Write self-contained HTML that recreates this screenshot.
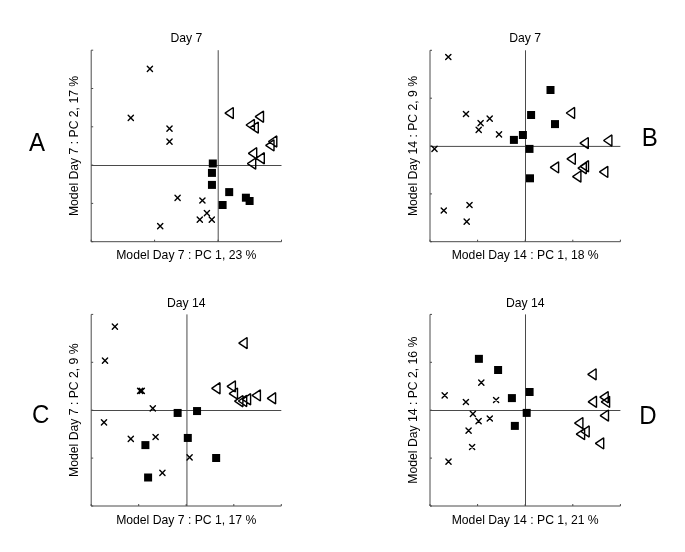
<!DOCTYPE html>
<html><head><meta charset="utf-8"><style>
html,body{margin:0;padding:0;background:#fff;}
svg{display:block;will-change:transform;}
text{font-family:"Liberation Sans",sans-serif;fill:#000;}
.t12{font-size:12.2px;}
.t24{font-size:25.6px;}
.ax{fill:none;stroke:#4a4a4a;stroke-width:1.0;}
.tk{fill:none;stroke:#4a4a4a;stroke-width:1.0;}
.ch{fill:none;stroke:#4a4a4a;stroke-width:1.0;}
.mx{fill:none;stroke:#000;stroke-width:1.4;stroke-linecap:round;}
.ms rect{fill:#000;}
.mt{fill:none;stroke:#000;stroke-width:1.4;stroke-linejoin:bevel;}
</style></head><body>
<svg width="685" height="552" viewBox="0 0 685 552">
<rect width="685" height="552" fill="#fff"/>
<path d="M91.2 50.2V241.7H281.5" class="ax"/>
<path d="M91.2 241.7v-2.0M154.6 241.7v-2.0M218.1 241.7v-2.0M281.5 241.7v-2.0M91.2 50.2h2.0M91.2 88.5h2.0M91.2 126.8h2.0M91.2 165.1h2.0M91.2 203.4h2.0M91.2 241.7h2.0" class="tk"/>
<path d="M218.2 50.2V241.7M91.2 165.5H281.5" class="ch"/>
<path d="M147.3 66.2l5.2 5.2m0 -5.2l-5.2 5.2M128.2 115.2l5.2 5.2m0 -5.2l-5.2 5.2M166.9 126.1l5.2 5.2m0 -5.2l-5.2 5.2M166.9 139.1l5.2 5.2m0 -5.2l-5.2 5.2M175 195.2l5.2 5.2m0 -5.2l-5.2 5.2M199.8 197.9l5.2 5.2m0 -5.2l-5.2 5.2M204.3 210.5l5.2 5.2m0 -5.2l-5.2 5.2M197.2 217.1l5.2 5.2m0 -5.2l-5.2 5.2M209.2 217.1l5.2 5.2m0 -5.2l-5.2 5.2M157.6 223.5l5.2 5.2m0 -5.2l-5.2 5.2" class="mx"/>
<g class="ms"><rect x="208.8" y="159.5" width="8.0" height="8.0"/><rect x="207.95" y="168.9" width="8.0" height="8.0"/><rect x="207.95" y="180.9" width="8.0" height="8.0"/><rect x="225.2" y="188.1" width="8.0" height="8.0"/><rect x="218.6" y="201" width="8.0" height="8.0"/><rect x="241.9" y="193.7" width="8.0" height="8.0"/><rect x="245.6" y="197" width="8.0" height="8.0"/></g>
<path d="M225 113.1L233.3 107.5V118.7ZM255.2 116.7L263.5 111.1V122.3ZM246.1 125L254.4 119.4V130.6ZM250 127.6L258.3 122V133.2ZM268.5 141.5L276.8 135.9V147.1ZM265.7 145.4L274 139.8V151ZM248.4 153.3L256.7 147.7V158.9ZM256 158.3L264.3 152.7V163.9ZM247.4 163.6L255.7 158V169.2Z" class="mt"/>
<text x="186.35" y="41.9" class="t12" text-anchor="middle">Day 7</text>
<text x="186.35" y="259.3" class="t12" text-anchor="middle">Model Day 7 : PC 1, 23 %</text>
<text transform="translate(78 145.95) rotate(-90)" class="t12" text-anchor="middle">Model Day 7 : PC 2, 17 %</text>
<text transform="translate(28.9 150.7) scale(0.94 1)" class="t24">A</text>
<path d="M430 50.3V241.7H620.4" class="ax"/>
<path d="M430 241.7v-2.0M477.6 241.7v-2.0M525.2 241.7v-2.0M572.8 241.7v-2.0M620.4 241.7v-2.0M430 50.3h2.0M430 98.2h2.0M430 146h2.0M430 193.9h2.0M430 241.7h2.0" class="tk"/>
<path d="M525.5 50.3V241.7M430 146.4H620.4" class="ch"/>
<path d="M445.7 54.4l5.2 5.2m0 -5.2l-5.2 5.2M463.4 111.4l5.2 5.2m0 -5.2l-5.2 5.2M487.1 116l5.2 5.2m0 -5.2l-5.2 5.2M478 120.6l5.2 5.2m0 -5.2l-5.2 5.2M476.1 127.2l5.2 5.2m0 -5.2l-5.2 5.2M496.4 131.7l5.2 5.2m0 -5.2l-5.2 5.2M431.9 146.3l5.2 5.2m0 -5.2l-5.2 5.2M441.2 207.9l5.2 5.2m0 -5.2l-5.2 5.2M466.9 202.4l5.2 5.2m0 -5.2l-5.2 5.2M464.1 219l5.2 5.2m0 -5.2l-5.2 5.2" class="mx"/>
<g class="ms"><rect x="546.5" y="86" width="8.0" height="8.0"/><rect x="527.1" y="111" width="8.0" height="8.0"/><rect x="551" y="120.1" width="8.0" height="8.0"/><rect x="509.9" y="135.9" width="8.0" height="8.0"/><rect x="518.9" y="131" width="8.0" height="8.0"/><rect x="525.5" y="144.9" width="8.0" height="8.0"/><rect x="526" y="174.3" width="8.0" height="8.0"/></g>
<path d="M566.3 113L574.6 107.4V118.6ZM580 143.1L588.3 137.5V148.7ZM603.6 140.5L611.9 134.9V146.1ZM567 158.9L575.3 153.3V164.5ZM550.3 167.4L558.6 161.8V173ZM578 168.2L586.3 162.6V173.8ZM580.2 166.3L588.5 160.7V171.9ZM572.6 176.6L580.9 171V182.2ZM599.5 171.9L607.8 166.3V177.5Z" class="mt"/>
<text x="525.2" y="42.3" class="t12" text-anchor="middle">Day 7</text>
<text x="525.2" y="259.3" class="t12" text-anchor="middle">Model Day 14 : PC 1, 18 %</text>
<text transform="translate(416.8 146) rotate(-90)" class="t12" text-anchor="middle">Model Day 14 : PC 2, 9 %</text>
<text transform="translate(641.8 145.9) scale(0.94 1)" class="t24">B</text>
<path d="M91.2 314.4V506H281.3" class="ax"/>
<path d="M91.2 506v-2.0M138.7 506v-2.0M186.2 506v-2.0M233.8 506v-2.0M281.3 506v-2.0M91.2 314.4h2.0M91.2 362.3h2.0M91.2 410.2h2.0M91.2 458.1h2.0M91.2 506h2.0" class="tk"/>
<path d="M186.95 314.4V506M91.2 410.5H281.3" class="ch"/>
<path d="M112.3 324l5.2 5.2m0 -5.2l-5.2 5.2M102.4 358.1l5.2 5.2m0 -5.2l-5.2 5.2M137.5 388.3l5.2 5.2m0 -5.2l-5.2 5.2M139.2 388.3l5.2 5.2m0 -5.2l-5.2 5.2M150.2 405.7l5.2 5.2m0 -5.2l-5.2 5.2M101.4 419.7l5.2 5.2m0 -5.2l-5.2 5.2M128.2 436.2l5.2 5.2m0 -5.2l-5.2 5.2M153 434.4l5.2 5.2m0 -5.2l-5.2 5.2M187 454.7l5.2 5.2m0 -5.2l-5.2 5.2M159.8 470.3l5.2 5.2m0 -5.2l-5.2 5.2" class="mx"/>
<g class="ms"><rect x="173.65" y="408.95" width="8.0" height="8.0"/><rect x="193.05" y="407.05" width="8.0" height="8.0"/><rect x="183.8" y="433.95" width="8.0" height="8.0"/><rect x="141.4" y="441.1" width="8.0" height="8.0"/><rect x="144.1" y="473.5" width="8.0" height="8.0"/><rect x="212.15" y="454" width="8.0" height="8.0"/></g>
<path d="M238.8 343.1L247.1 337.5V348.7ZM211.7 388.3L220 382.7V393.9ZM227.1 386.4L235.4 380.8V392ZM229.2 393.6L237.5 388V399.2ZM252.1 395.4L260.4 389.8V401ZM267.3 398.3L275.6 392.7V403.9ZM234.6 401.2L242.9 395.6V406.8ZM238.4 401L246.7 395.4V406.6ZM242.3 399.3L250.6 393.7V404.9Z" class="mt"/>
<text x="186.25" y="307.1" class="t12" text-anchor="middle">Day 14</text>
<text x="186.25" y="523.6" class="t12" text-anchor="middle">Model Day 7 : PC 1, 17 %</text>
<text transform="translate(78 410.2) rotate(-90)" class="t12" text-anchor="middle">Model Day 7 : PC 2, 9 %</text>
<text transform="translate(32 422.6) scale(0.94 1)" class="t24">C</text>
<path d="M430 314.4V506H620.4" class="ax"/>
<path d="M430 506v-2.0M477.6 506v-2.0M525.2 506v-2.0M572.8 506v-2.0M620.4 506v-2.0M430 314.4h2.0M430 362.3h2.0M430 410.2h2.0M430 458.1h2.0M430 506h2.0" class="tk"/>
<path d="M525.5 314.4V506M430 410.5H620.4" class="ch"/>
<path d="M478.7 380.1l5.2 5.2m0 -5.2l-5.2 5.2M442.1 392.8l5.2 5.2m0 -5.2l-5.2 5.2M463.3 399.4l5.2 5.2m0 -5.2l-5.2 5.2M493.5 397.4l5.2 5.2m0 -5.2l-5.2 5.2M470.3 411.2l5.2 5.2m0 -5.2l-5.2 5.2M476 418.6l5.2 5.2m0 -5.2l-5.2 5.2M487.2 415.9l5.2 5.2m0 -5.2l-5.2 5.2M466 428l5.2 5.2m0 -5.2l-5.2 5.2M469.5 444.4l5.2 5.2m0 -5.2l-5.2 5.2M445.9 459.1l5.2 5.2m0 -5.2l-5.2 5.2" class="mx"/>
<g class="ms"><rect x="474.9" y="354.85" width="8.0" height="8.0"/><rect x="494.1" y="366" width="8.0" height="8.0"/><rect x="507.9" y="394.1" width="8.0" height="8.0"/><rect x="525.6" y="388" width="8.0" height="8.0"/><rect x="522.7" y="408.9" width="8.0" height="8.0"/><rect x="510.85" y="421.9" width="8.0" height="8.0"/></g>
<path d="M587.8 374.35L596.1 368.75V379.95ZM588.2 401.8L596.5 396.2V407.4ZM599.9 397.2L608.2 391.6V402.8ZM601.3 401.9L609.6 396.3V407.5ZM600.2 415.6L608.5 410V421.2ZM574.6 423.1L582.9 417.5V428.7ZM580.9 431.5L589.2 425.9V437.1ZM576.3 434.1L584.6 428.5V439.7ZM595.4 443.4L603.7 437.8V449Z" class="mt"/>
<text x="525.2" y="307.1" class="t12" text-anchor="middle">Day 14</text>
<text x="525.2" y="523.6" class="t12" text-anchor="middle">Model Day 14 : PC 1, 21 %</text>
<text transform="translate(416.8 410.2) rotate(-90)" class="t12" text-anchor="middle">Model Day 14 : PC 2, 16 %</text>
<text transform="translate(639.2 424) scale(0.94 1)" class="t24">D</text>
</svg>
</body></html>
